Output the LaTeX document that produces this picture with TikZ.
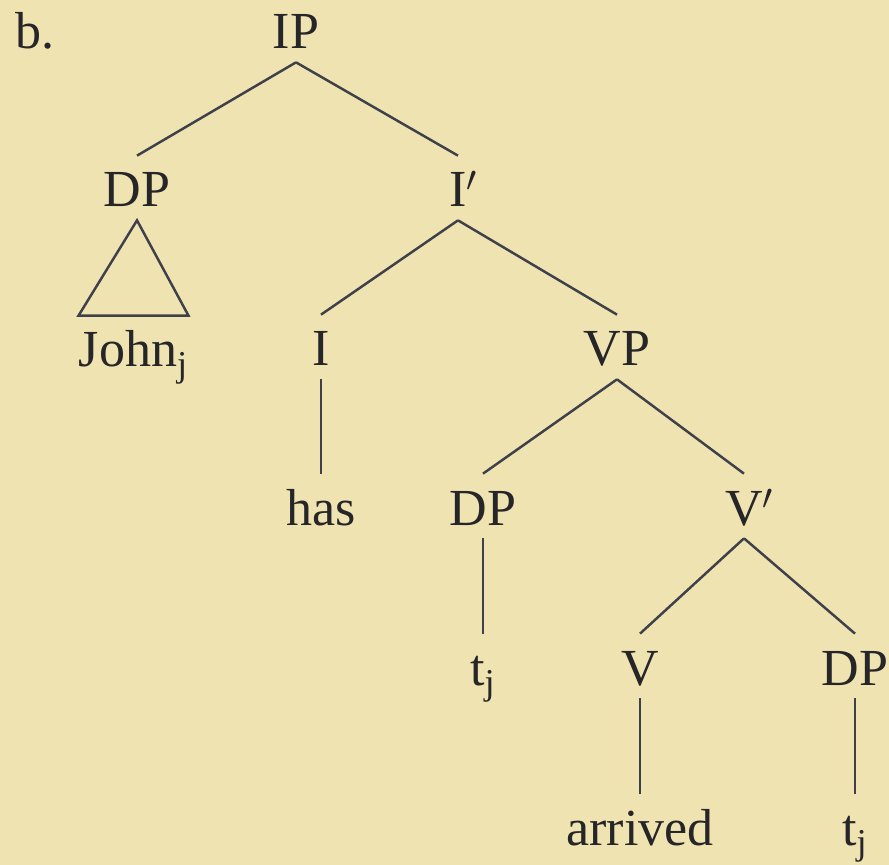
\documentclass[tikz,border=0pt]{standalone}
\usepackage{fontspec}
\newfontfamily\arbrefont{LiberationSerif-Regular.ttf}
\usepackage{tikz}
\usetikzlibrary{positioning}
\definecolor{fond}{RGB}{240,227,178}
\definecolor{trait}{RGB}{62,64,74}
\definecolor{encre}{RGB}{38,38,40}
\tikzstyle{cat}=[
        anchor=base,
        text=encre,
        font=\arbrefont\fontsize{29.6}{35}\selectfont,
        text height=0.76cm,
        text depth=0pt,
        inner xsep=0pt,
        inner ysep=0.26cm
]
\tikzstyle{mot}=[cat]
\tikzstyle{branche}=[draw=trait,line width=1.4pt,line join=miter]

\begin{document}
\begin{tikzpicture}
\fill[fond] (0,0) rectangle (17.78,-17.30);
\useasboundingbox (0,0) rectangle (17.78,-17.30);
\node[cat,anchor=base west] (lettre) at (0.30,-0.98) {b.};
\node[cat] (ip) at (5.92,-0.98) {IP};
\node[cat] (dpa) at (2.74,-4.14) {DP};
\node[cat] (ibar) at (9.16,-4.14) {I\rlap{$'$}};
\node[mot] (john) at (2.67,-7.34) {John\textsubscript{j}};
\node[cat] (i) at (6.42,-7.32) {I};
\node[cat] (vp) at (12.34,-7.32) {VP};
\node[mot] (has) at (6.42,-10.50) {has};
\node[cat] (dpb) at (9.66,-10.50) {DP};
\node[cat] (vbar) at (14.88,-10.50) {V\rlap{$'$}};
\node[mot] (ta) at (9.66,-13.70) {t\textsubscript{j}};
\node[cat] (v) at (12.80,-13.70) {V};
\node[cat] (dpc) at (17.10,-13.70) {DP};
\node[mot] (arrived) at (12.80,-16.90) {arrived};
\node[mot] (tb) at (17.10,-16.90) {t\textsubscript{j}};
%branches
\draw[branche] (ip.south) -- (dpa.north);
\draw[branche] (ip.south) -- (ibar.north);
\draw[branche] (dpa.south) -- (john.north west) -- (john.north east) -- cycle;
\draw[branche] (ibar.south) -- (i.north);
\draw[branche] (ibar.south) -- (vp.north);
\draw[branche] (i.south) -- (has.north);
\draw[branche] (vp.south) -- (dpb.north);
\draw[branche] (vp.south) -- (vbar.north);
\draw[branche] (dpb.south) -- (ta.north);
\draw[branche] (vbar.south) -- (v.north);
\draw[branche] (vbar.south) -- (dpc.north);
\draw[branche] (v.south) -- (arrived.north);
\draw[branche] (dpc.south) -- (tb.north);
\end{tikzpicture}
\end{document}
